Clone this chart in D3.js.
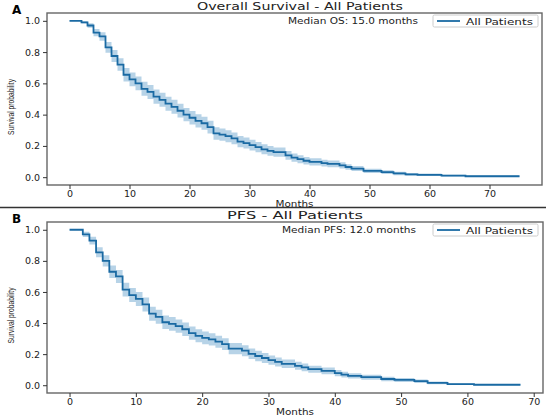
<!DOCTYPE html>
<html lang="en">
<head>
<meta charset="UTF-8">
<title>Kaplan-Meier: All Patients</title>
<script src="https://d3js.org/d3.v7.min.js"></script>
<style>
  body { margin: 0; background: #fff; }
  text { font-family: 'DejaVu Sans', sans-serif; fill: #222; }
  .tick text { font-size: 9.5px; }
  .tick line { stroke: #333; }
  .domain { display: none; }
</style>
</head>
<body>
<div id="chart"></div>
<script>
// overall survival, step times (months) and survival estimate with band
var osTime = [0,2,3,4,5,6,7,8,9,10,11,12,13,14,15,16,17,18,19,20,21,22,23,24,25,26,27,28,29,30,31,32,33,34,36,37,38,39,40,42,43,45,46,47,49,52,54,56,58,62,66,75];
var osSurv = [1,0.99,0.97,0.925,0.9,0.83,0.775,0.72,0.655,0.625,0.6,0.565,0.545,0.515,0.495,0.47,0.45,0.425,0.4,0.38,0.36,0.345,0.32,0.28,0.272,0.262,0.248,0.228,0.218,0.205,0.192,0.178,0.168,0.16,0.14,0.125,0.115,0.105,0.098,0.09,0.085,0.075,0.065,0.055,0.04,0.032,0.024,0.018,0.015,0.01,0.006,0.006];
var osLow  = [1,0.983,0.955,0.902,0.873,0.796,0.737,0.68,0.612,0.581,0.556,0.52,0.5,0.47,0.45,0.425,0.405,0.381,0.357,0.337,0.318,0.303,0.279,0.24,0.233,0.224,0.211,0.192,0.183,0.171,0.159,0.146,0.137,0.13,0.112,0.098,0.089,0.081,0.075,0.068,0.064,0.055,0.047,0.039,0.026,0.02,0.013,0.009,0.007,0.004,0.001,0.001];
var osHigh = [1,0.997,0.985,0.948,0.927,0.864,0.813,0.76,0.698,0.669,0.644,0.61,0.59,0.56,0.54,0.515,0.495,0.469,0.443,0.423,0.402,0.387,0.361,0.32,0.311,0.3,0.285,0.264,0.253,0.239,0.225,0.21,0.199,0.19,0.168,0.152,0.141,0.129,0.121,0.112,0.106,0.095,0.083,0.071,0.054,0.044,0.035,0.027,0.023,0.016,0.011,0.011];

// progression free survival
var pfsTime = [0,2,3,4,5,6,7,8,9,10,11,12,13,14,15,16,17,18,19,20,21,22,23,24,26,27,28,29,30,31,32,34,35,36,38,40,41,42,44,47,49,52,54,57,61,68];
var pfsSurv = [1,0.97,0.93,0.855,0.8,0.73,0.7,0.615,0.58,0.555,0.52,0.46,0.44,0.405,0.395,0.38,0.36,0.335,0.318,0.305,0.295,0.28,0.265,0.235,0.222,0.202,0.188,0.175,0.162,0.15,0.138,0.125,0.115,0.103,0.092,0.078,0.068,0.06,0.052,0.04,0.034,0.026,0.015,0.007,0.003,0.003];
var pfsLow  = [1,0.953,0.905,0.823,0.764,0.69,0.658,0.571,0.535,0.51,0.475,0.415,0.395,0.361,0.351,0.337,0.317,0.293,0.276,0.264,0.255,0.241,0.227,0.199,0.187,0.168,0.155,0.143,0.132,0.121,0.111,0.099,0.09,0.08,0.07,0.058,0.049,0.043,0.036,0.026,0.021,0.015,0.006,0.001,0,0];
var pfsHigh = [1,0.987,0.955,0.887,0.836,0.77,0.742,0.659,0.625,0.6,0.565,0.505,0.485,0.449,0.439,0.423,0.403,0.377,0.36,0.346,0.335,0.319,0.303,0.271,0.257,0.236,0.221,0.207,0.192,0.179,0.165,0.151,0.14,0.126,0.114,0.098,0.087,0.077,0.068,0.054,0.047,0.037,0.024,0.013,0.006,0.006];

var xTicks = [0,10,20,30,40,50,60,70];
var yTicks = [0,0.2,0.4,0.6,0.8,1.0];

var svg = d3.select("#chart")
.append("svg")
.attr("width", 550)
.attr("height", 416);

// separator between the panels
svg.append("line")
.attr("x1", 0).attr("x2", 546)
.attr("y1", 207.5).attr("y2", 207.5)
.attr("stroke", "#333")
.attr("stroke-width", 1.3);

function panel(o) {
  var x = d3.scaleLinear().domain(o.xDomain).range([o.left, o.right]);
  var y = d3.scaleLinear().domain([-0.05, 1.05]).range([o.bottom, o.top]);

  var g = svg.append("g");

  var rows = o.time.map(function (t, i) {
    return { t: t, s: o.surv[i], lo: o.low[i], hi: o.high[i] };
  });

  g.append("path")
  .datum(rows)
  .attr("fill", "#1f77b4")
  .attr("fill-opacity", 0.32)
  .attr("d", d3.area()
    .curve(d3.curveStepAfter)
    .x(function (d) { return x(d.t); })
    .y0(function (d) { return y(d.lo); })
    .y1(function (d) { return y(d.hi); }));

  g.append("path")
  .datum(rows)
  .attr("fill", "none")
  .attr("stroke", "#1a6aa3")
  .attr("stroke-width", 1.8)
  .attr("d", d3.line()
    .curve(d3.curveStepAfter)
    .x(function (d) { return x(d.t); })
    .y(function (d) { return y(d.s); }));

  // frame
  g.append("rect")
  .attr("x", o.left).attr("y", o.top)
  .attr("width", o.right - o.left).attr("height", o.bottom - o.top)
  .attr("fill", "none")
  .attr("stroke", "#666")
  .attr("stroke-width", 1.4);

  g.append("g")
  .attr("transform", "translate(0," + o.bottom + ")")
  .call(d3.axisBottom(x).tickValues(xTicks).tickSize(4).tickPadding(1.5));

  g.append("g")
  .attr("transform", "translate(" + o.left + ",0)")
  .call(d3.axisLeft(y).tickValues(yTicks).tickFormat(d3.format(".1f")).tickSize(4).tickPadding(3));

  g.append("text")
  .attr("x", o.titleX).attr("y", o.top - 3)
  .attr("text-anchor", "middle")
  .attr("textLength", o.titleW)
  .attr("lengthAdjust", "spacingAndGlyphs")
  .style("font-size", "11px")
  .text(o.title);

  g.append("text")
  .attr("x", 12).attr("y", o.top + 1)
  .style("font-size", "12px")
  .style("font-weight", "bold")
  .style("fill", "#000")
  .text(o.letter);

  g.append("text")
  .attr("x", (o.left + o.right) / 2).attr("y", o.bottom + 21.5)
  .attr("text-anchor", "middle")
  .attr("textLength", 38)
  .attr("lengthAdjust", "spacingAndGlyphs")
  .style("font-size", "9px")
  .text("Months");

  g.append("text")
  .attr("transform", "translate(14," + ((o.top + o.bottom) / 2 + 8) + ") rotate(-90)")
  .attr("text-anchor", "middle")
  .attr("textLength", 56)
  .attr("lengthAdjust", "spacingAndGlyphs")
  .style("font-family", "'Liberation Sans Narrow', 'Liberation Sans', sans-serif")
  .style("font-size", "9px")
  .text("Survival probability");

  // median text
  g.append("text")
  .attr("x", o.medX).attr("y", o.top + 11)
  .attr("textLength", o.medW)
  .attr("lengthAdjust", "spacingAndGlyphs")
  .style("font-size", "9.5px")
  .text(o.median);

  // legend
  var lg = g.append("g").attr("transform", "translate(433," + (o.top + 2) + ")");
  lg.append("rect")
  .attr("width", 105).attr("height", 12)
  .attr("rx", 1.5)
  .attr("fill", "#fff")
  .attr("stroke", "#ccc");
  lg.append("line")
  .attr("x1", 4).attr("x2", 27).attr("y1", 6).attr("y2", 6)
  .attr("stroke", "#1a6aa3").attr("stroke-width", 1.8);
  lg.append("text")
  .attr("x", 33).attr("y", 9.5)
  .attr("textLength", 67)
  .attr("lengthAdjust", "spacingAndGlyphs")
  .style("font-size", "9.5px")
  .text("All Patients");
}

panel({
  time: osTime, surv: osSurv, low: osLow, high: osHigh,
  xDomain: [-3.75, 78.75], left: 47, right: 542, top: 13, bottom: 185,
  title: "Overall Survival - All Patients", titleX: 300, titleW: 206,
  letter: "A", median: "Median OS: 15.0 months", medX: 288, medW: 130
});

panel({
  time: pfsTime, surv: pfsSurv, low: pfsLow, high: pfsHigh,
  xDomain: [-3.4, 71.4], left: 47, right: 543, top: 222, bottom: 393,
  title: "PFS - All Patients", titleX: 295, titleW: 136,
  letter: "B", median: "Median PFS: 12.0 months", medX: 282, medW: 134
});
</script>
</body>
</html>
